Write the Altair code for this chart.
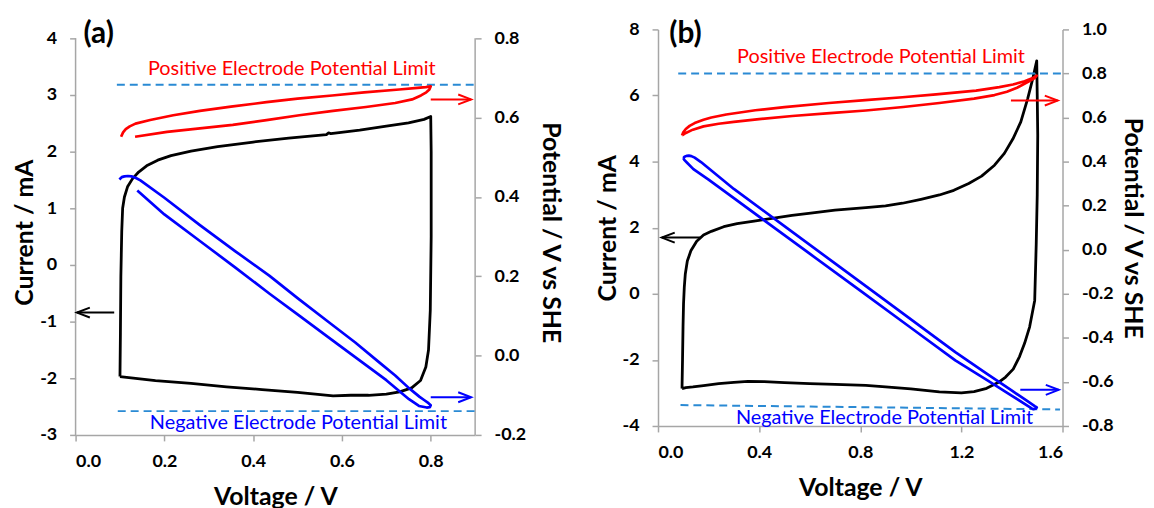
import altair as alt
import pandas as pd

FONT = "Lato"
RED = "#ff0000"
BLUE = "#0000ff"
DASH = "#2a8ad4"
AXC = "#a6a6a6"

# ---------------- Panel (a) ----------------
a_black_v = [0.100, 0.101, 0.102, 0.104, 0.106, 0.110, 0.117, 0.128, 0.142, 0.160, 0.185, 0.215,
             0.26, 0.32, 0.40, 0.48, 0.565, 0.57, 0.575, 0.64, 0.70, 0.75, 0.785, 0.800,
             0.801, 0.801, 0.799, 0.795, 0.789, 0.777, 0.757, 0.73, 0.70, 0.66, 0.62, 0.58,
             0.50, 0.42, 0.34, 0.26, 0.18, 0.12, 0.100]
a_black_i = [-1.97, -1.2, -0.2, 0.6, 1.0, 1.2, 1.38, 1.52, 1.64, 1.75, 1.85, 1.93,
             2.01, 2.09, 2.17, 2.24, 2.30, 2.33, 2.32, 2.38, 2.45, 2.51, 2.57, 2.62,
             2.0, 0.5, -0.8, -1.5, -1.8, -2.04, -2.17, -2.24, -2.28, -2.30, -2.30, -2.31,
             -2.25, -2.20, -2.15, -2.09, -2.04, -1.99, -1.97]

a_red_v = [0.1025, 0.107, 0.113, 0.122, 0.135, 0.168, 0.22, 0.28, 0.35, 0.43, 0.50, 0.578, 0.65,
           0.729, 0.77, 0.789, 0.800, 0.797, 0.790, 0.778, 0.758, 0.72, 0.654, 0.58, 0.504,
           0.43, 0.354, 0.28, 0.206, 0.134]
a_red_p = [0.552, 0.563, 0.571, 0.578, 0.585, 0.594, 0.606, 0.617, 0.628, 0.639, 0.648, 0.656, 0.664,
           0.671, 0.675, 0.677, 0.679, 0.671, 0.664, 0.656, 0.646, 0.637, 0.627, 0.617, 0.606,
           0.594, 0.582, 0.573, 0.564, 0.552]

a_blue_v = [0.0987, 0.104, 0.110, 0.118, 0.126, 0.136, 0.146, 0.20, 0.28, 0.36, 0.437, 0.50, 0.572,
            0.63, 0.684, 0.72, 0.751, 0.775, 0.785, 0.795, 0.800, 0.798, 0.791, 0.7735, 0.751,
            0.70, 0.594, 0.50, 0.437, 0.36, 0.28, 0.20, 0.139]
a_blue_p = [0.444, 0.450, 0.452, 0.453, 0.452, 0.448, 0.442, 0.398, 0.329, 0.263, 0.201, 0.145, 0.083,
            0.033, -0.017, -0.050, -0.082, -0.104, -0.112, -0.120, -0.125, -0.130, -0.131, -0.127, -0.110,
            -0.062, 0.026, 0.104, 0.156, 0.222, 0.289, 0.356, 0.4165]

a_dash_upper_v = [0.093, 0.9]
a_dash_upper_p = [0.683, 0.683]
a_dash_lower_v = [0.095, 0.9]
a_dash_lower_p = [-0.14, -0.14]

# arrows: (start x, end x, level)
a_black_arrow = (0.087, 0.003, -0.84)
a_red_arrow = (0.80, 0.891, 0.646)
a_blue_arrow = (0.80, 0.891, -0.105)

a_label = ("(a)", 0.052, 4.074)
a_pos_text = ("Positive Electrode Potential Limit", 0.487, 0.723)
a_neg_text = ("Negative Electrode Potential Limit", 0.502, -0.169)

# ---------------- Panel (b) ----------------
b_black_v = [0.095, 0.097, 0.099, 0.101, 0.104, 0.108, 0.116, 0.13, 0.153, 0.18, 0.211, 0.26, 0.313,
             0.38, 0.458, 0.53, 0.604, 0.70, 0.822, 0.90, 0.967, 1.04, 1.113, 1.17, 1.229, 1.28,
             1.331, 1.37, 1.404, 1.435, 1.462, 1.482, 1.498,
             1.500, 1.502, 1.500, 1.496, 1.490, 1.47, 1.45, 1.43, 1.405, 1.375, 1.347, 1.30,
             1.25, 1.20, 1.113, 1.0, 0.9, 0.822, 0.7, 0.6, 0.5, 0.42, 0.356, 0.30, 0.24, 0.18,
             0.138, 0.11, 0.095]
b_black_i = [-2.87, -2.0, -1.0, -0.3, 0.2, 0.6, 0.99, 1.3, 1.59, 1.78, 1.89, 2.03, 2.12,
             2.20, 2.29, 2.37, 2.44, 2.53, 2.61, 2.66, 2.74, 2.86, 2.99, 3.13, 3.34, 3.56,
             3.89, 4.25, 4.69, 5.2, 5.9, 6.5, 7.05,
             6.0, 4.8, 3.0, 1.5, -0.2, -1.0, -1.5, -1.9, -2.28, -2.52, -2.68, -2.86,
             -2.96, -3.00, -2.97, -2.88, -2.82, -2.77, -2.74, -2.72, -2.69, -2.66, -2.65, -2.68, -2.72, -2.78,
             -2.82, -2.84, -2.87]

b_red_v = [0.095, 0.10, 0.11, 0.125, 0.145, 0.18, 0.211, 0.27, 0.385, 0.5, 0.676, 0.82, 0.967, 1.1,
           1.258, 1.35, 1.404, 1.45, 1.48, 1.498,
           1.49, 1.462, 1.42, 1.38, 1.331, 1.25, 1.113, 0.97, 0.822, 0.68, 0.531, 0.40, 0.30, 0.24,
           0.18, 0.138, 0.11, 0.095]
b_red_p = [0.519, 0.533, 0.548, 0.562, 0.575, 0.590, 0.600, 0.614, 0.633, 0.647, 0.666, 0.679, 0.692, 0.705,
           0.722, 0.738, 0.750, 0.765, 0.778, 0.790,
           0.779, 0.761, 0.735, 0.717, 0.702, 0.686, 0.666, 0.648, 0.632, 0.620, 0.607, 0.593, 0.580, 0.572,
           0.560, 0.545, 0.530, 0.519]

b_blue_v = [0.100, 0.105, 0.113, 0.122, 0.132, 0.145, 0.17, 0.30, 0.50, 0.70, 0.90, 1.05, 1.176,
            1.30, 1.40, 1.46, 1.49, 1.498, 1.494, 1.485, 1.478,
            1.40, 1.30, 1.176, 1.0, 0.80, 0.60, 0.443, 0.30, 0.20, 0.14, 0.115, 0.104, 0.100]
b_blue_p = [0.416, 0.422, 0.426, 0.427, 0.425, 0.418, 0.398, 0.276, 0.107, -0.062, -0.231, -0.358, -0.465,
            -0.562, -0.640, -0.686, -0.710, -0.716, -0.722, -0.724, -0.720,
            -0.663, -0.591, -0.502, -0.354, -0.186, -0.018, 0.114, 0.234, 0.318, 0.366, 0.395, 0.408, 0.416]

b_dash_upper_v = [0.08, 1.6]
b_dash_upper_p = [0.80, 0.80]
b_dash_lower_v = [0.089, 1.59]
b_dash_lower_p = [-0.705, -0.725]

b_black_arrow = (0.167, 0.015, 1.70)
b_red_arrow = (1.396, 1.581, 0.677)
b_blue_arrow = (1.433, 1.585, -0.636)

b_label = ("(b)", 0.109, 7.856)
b_pos_text = ("Positive Electrode Potential Limit", 0.882, 0.875)
b_neg_text = ("Negative Electrode Potential Limit", 0.896, -0.762)

HEAD_RIGHT = "M-2.6,-1L0,0L-2.6,1"
HEAD_LEFT = "M2.6,-1L0,0L2.6,1"


def neg_fmt(fmt):
    return ("datum.value < 0 ? '-' + format(-datum.value, '%s') : format(datum.value, '%s')"
            % (fmt, fmt))


def make_axis(title, values, fmt, orient, domain=True, title_pad=2, label_pad=13):
    return alt.Axis(
        title=title, values=values, labelExpr=neg_fmt(fmt), orient=orient, domain=domain,
        labelFont=FONT, labelFontSize=18, labelFontWeight="bold", labelColor="black",
        titleFont=FONT, titleFontSize=25, titleFontWeight="bold", titleColor="black",
        domainColor=AXC, tickColor=AXC, domainWidth=1.5, tickWidth=1.5, tickSize=6,
        labelPadding=label_pad, titlePadding=title_pad, grid=False,
    )


def line_df(xs, ys, col):
    return pd.DataFrame({"v": xs, col: ys, "k": list(range(len(xs)))})


def panel(cfg):
    xdom, ldom, rdom = cfg["xdom"], cfg["ldom"], cfg["rdom"]
    own_domain = cfg["own_domain"]
    xax = make_axis("Voltage / V", cfg["xvals"], ".1f", "bottom", title_pad=14, label_pad=12)
    lax = make_axis("Current / mA", cfg["lvals"], "d", "left", domain=not own_domain, title_pad=2)
    rax = make_axis("Potential / V vs SHE", cfg["rvals"], ".1f", "right", domain=not own_domain,
                    title_pad=cfg["rtitle_pad"])

    def X(field="v"):
        return alt.X(f"{field}:Q", scale=alt.Scale(domain=xdom, nice=False, zero=False), axis=xax)

    def YL(field="i"):
        return alt.Y(f"{field}:Q", scale=alt.Scale(domain=ldom, nice=False, zero=False), axis=lax)

    def YR(field="p"):
        return alt.Y(f"{field}:Q", scale=alt.Scale(domain=rdom, nice=False, zero=False), axis=rax)

    # left (current) layer
    left_layers = []
    if own_domain:
        lo, hi = cfg["lvals"][0], cfg["lvals"][-1]
        ddf = pd.DataFrame({"v": [xdom[0], xdom[1]], "i": [lo, lo], "i2": [hi, hi]})
        left_layers.append(alt.Chart(ddf).mark_rule(color=AXC, strokeWidth=1.5).encode(
            x=X(), y=YL(), y2="i2:Q"))
    black = alt.Chart(line_df(cfg["black_v"], cfg["black_i"], "i")).mark_line(
        color="black", strokeWidth=2.8, strokeJoin="round").encode(x=X(), y=YL(), order="k:Q")
    x1, x2, lvl = cfg["black_arrow"]
    barr_df = pd.DataFrame({"v": [x1], "v2": [x2], "i": [lvl]})
    barr = alt.Chart(barr_df).mark_rule(color="black", strokeWidth=2).encode(
        x=X(), x2="v2:Q", y=YL())
    bhead = alt.Chart(barr_df).mark_point(
        shape=HEAD_LEFT if x2 < x1 else HEAD_RIGHT, filled=False, size=100, color="black",
        strokeWidth=2, opacity=1).encode(x=X("v2"), y=YL())
    t, tx, ty = cfg["label"]
    lab = alt.Chart(pd.DataFrame({"v": [tx], "i": [ty], "t": [t]})).mark_text(
        font=FONT, fontSize=30, fontWeight="bold", color="black", align="center",
        baseline="middle").encode(x=X(), y=YL(), text="t:N")
    left = alt.layer(*left_layers, black, barr, bhead, lab)

    # right (potential) layer
    layers = []
    for (xs, ys, colr) in [(cfg["dash_u_v"], cfg["dash_u_p"], DASH),
                           (cfg["dash_l_v"], cfg["dash_l_p"], DASH)]:
        layers.append(alt.Chart(line_df(xs, ys, "p")).mark_line(
            color=colr, strokeWidth=2, strokeDash=[8, 5]).encode(x=X(), y=YR(), order="k:Q"))
    for (xs, ys, colr) in [(cfg["red_v"], cfg["red_p"], RED), (cfg["blue_v"], cfg["blue_p"], BLUE)]:
        layers.append(alt.Chart(line_df(xs, ys, "p")).mark_line(
            color=colr, strokeWidth=2.7, strokeJoin="round").encode(x=X(), y=YR(), order="k:Q"))
    for (arrow, colr) in [(cfg["red_arrow"], RED), (cfg["blue_arrow"], BLUE)]:
        x1, x2, lvl = arrow
        adf = pd.DataFrame({"v": [x1], "v2": [x2], "p": [lvl]})
        layers.append(alt.Chart(adf).mark_rule(color=colr, strokeWidth=2).encode(
            x=X(), x2="v2:Q", y=YR()))
        layers.append(alt.Chart(adf).mark_point(
            shape=HEAD_RIGHT, filled=False, size=100, color=colr, strokeWidth=2,
            opacity=1).encode(x=X("v2"), y=YR()))
    for (txt, colr) in [(cfg["pos_text"], RED), (cfg["neg_text"], BLUE)]:
        t, tx, ty = txt
        layers.append(alt.Chart(pd.DataFrame({"v": [tx], "p": [ty], "t": [t]})).mark_text(
            font=FONT, fontSize=20, color=colr, align="center", baseline="middle").encode(
            x=X(), y=YR(), text="t:N"))
    right = alt.layer(*layers)

    return alt.layer(left, right).resolve_scale(y="independent").properties(
        width=cfg["w"], height=cfg["h"])


# panel (a) sits 9 px lower than (b): its plot area is 9 px taller at the top
cfg_a = dict(xdom=[0, 0.9], ldom=[-3, 4 + 9 / 57], rdom=[-0.2, 0.8 + 9 / 399],
             own_domain=True, rtitle_pad=12,
             xvals=[0, 0.2, 0.4, 0.6, 0.8], lvals=list(range(-3, 5)),
             rvals=[-0.2, 0.0, 0.2, 0.4, 0.6, 0.8],
             black_v=a_black_v, black_i=a_black_i, red_v=a_red_v, red_p=a_red_p,
             blue_v=a_blue_v, blue_p=a_blue_p,
             dash_u_v=a_dash_upper_v, dash_u_p=a_dash_upper_p,
             dash_l_v=a_dash_lower_v, dash_l_p=a_dash_lower_p,
             black_arrow=a_black_arrow, red_arrow=a_red_arrow, blue_arrow=a_blue_arrow,
             label=a_label, pos_text=a_pos_text, neg_text=a_neg_text, w=402, h=408)

cfg_b = dict(xdom=[0, 1.6], ldom=[-4, 8], rdom=[-0.8, 1.0], own_domain=False, rtitle_pad=6,
             xvals=[0, 0.4, 0.8, 1.2, 1.6], lvals=list(range(-4, 9, 2)),
             rvals=[-0.8, -0.6, -0.4, -0.2, 0.0, 0.2, 0.4, 0.6, 0.8, 1.0],
             black_v=b_black_v, black_i=b_black_i, red_v=b_red_v, red_p=b_red_p,
             blue_v=b_blue_v, blue_p=b_blue_p,
             dash_u_v=b_dash_upper_v, dash_u_p=b_dash_upper_p,
             dash_l_v=b_dash_lower_v, dash_l_p=b_dash_lower_p,
             black_arrow=b_black_arrow, red_arrow=b_red_arrow, blue_arrow=b_blue_arrow,
             label=b_label, pos_text=b_pos_text, neg_text=b_neg_text, w=407, h=399)

chart = alt.hconcat(panel(cfg_a), panel(cfg_b), spacing=32).properties(
    padding={"left": 4, "top": 9, "right": 2, "bottom": 0}
).configure_view(stroke=None)

chart.save("out.html", embed_options={"renderer": "svg", "actions": False})
